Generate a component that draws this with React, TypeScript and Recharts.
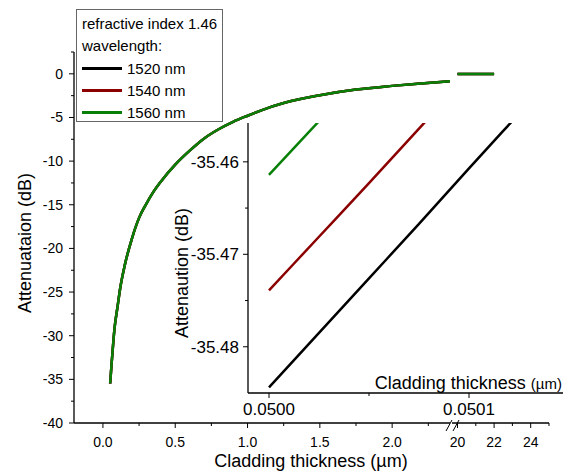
import { LineChart, Line, XAxis, YAxis } from "recharts";

const FONT = "'Liberation Sans', Arial, sans-serif";

// main curve, 0.05 – 2.4 µm
const thickness = [
  0.05, 0.06, 0.07, 0.08, 0.1, 0.12, 0.15, 0.2, 0.25, 0.3, 0.35, 0.4, 0.5, 0.6,
  0.7, 0.8, 0.9, 1.0, 1.1, 1.25, 1.5, 1.75, 2.0, 2.2, 2.4,
];
const att1520 = [
  -35.484, -33.2, -31.1, -29.2, -26.8, -24.5, -22.0, -18.9, -16.5, -14.9, -13.5,
  -12.35, -10.4, -8.8, -7.4, -6.35, -5.5, -4.8, -4.15, -3.35, -2.45, -1.8, -1.38,
  -1.1, -0.84,
];
const att1540 = [
  -35.474, -33.2, -31.1, -29.2, -26.8, -24.5, -22.0, -18.9, -16.5, -14.9, -13.5,
  -12.35, -10.4, -8.8, -7.4, -6.35, -5.5, -4.8, -4.15, -3.35, -2.45, -1.8, -1.38,
  -1.1, -0.84,
];
const att1560 = [
  -35.461, -33.2, -31.1, -29.2, -26.8, -24.5, -22.0, -18.9, -16.5, -14.9, -13.5,
  -12.35, -10.4, -8.8, -7.4, -6.35, -5.5, -4.8, -4.15, -3.35, -2.45, -1.8, -1.38,
  -1.1, -0.84,
];

// far segment past the axis break
const farThickness = [20, 22];
const far1520 = [-0.03, -0.03];
const far1540 = [-0.03, -0.03];
const far1560 = [-0.03, -0.03];

// zoom near 0.05 µm
const zoomThickness = [0.05, 0.050025, 0.05005, 0.050075, 0.0501, 0.050125, 0.05015];
const zoom1520 = [-35.4844, -35.4785, -35.4726, -35.4667, -35.4607, -35.4548, -35.4489];
const zoom1540 = [-35.4739, -35.4681, -35.4623, -35.4564, -35.4506, -35.4448, -35.439];
const zoom1560 = [-35.4614, -35.4556, -35.4497, -35.4439, -35.4381, -35.4323, -35.4265];

const wavelengths = ["1520 nm", "1540 nm", "1560 nm"];
const colors = ["#000000", "#8b0000", "#088008"];

const yMajor = [-40, -35, -30, -25, -20, -15, -10, -5, 0];
const yMinor = [-37.5, -32.5, -27.5, -22.5, -17.5, -12.5, -7.5, -2.5, 2.5];
const xMajor = [0, 0.5, 1, 1.5, 2];
const xMinor = [0.25, 0.75, 1.25, 1.75, 2.25];
const farMajor = [20, 22, 24];
const farMinor = [21, 23, 25];
const zoomYMajor = [-35.48, -35.47, -35.46];
const zoomYMinor = [-35.475, -35.465];
const zoomXMajor = [0.05, 0.0501];
const zoomXMinor = [0.05005];

const mainData = thickness.map((t, i) => ({ t, a: att1520[i], b: att1540[i], c: att1560[i] }));
const farData = farThickness.map((t, i) => ({ t, a: far1520[i], b: far1540[i], c: far1560[i] }));
const zoomData = zoomThickness.map((t, i) => ({ t, a: zoom1520[i], b: zoom1540[i], c: zoom1560[i] }));

const TICK_SIZE = 6;
const TICK_MARGIN = 2;

const isIn = (list: number[], v: number) => list.some((m) => Math.abs(m - v) < 1e-9);

function leftTick(majors: number[], fontSize: number, gap: number, fmt: (v: number) => string) {
  return (props: any) => {
    const { x, y, payload } = props;
    const major = isIn(majors, payload.value);
    const ax = x + TICK_SIZE + TICK_MARGIN;
    const len = major ? 5 : 3;
    return (
      <g>
        <line x1={ax - len} y1={y} x2={ax} y2={y} stroke="#000" strokeWidth={1} />
        {major && (
          <text x={ax - gap} y={y} dy="0.35em" textAnchor="end" fontSize={fontSize} fontFamily={FONT} fill="#000">
            {fmt(payload.value)}
          </text>
        )}
      </g>
    );
  };
}

function bottomTick(majors: number[], fontSize: number, gap: number, fmt: (v: number) => string) {
  return (props: any) => {
    const { x, y, payload } = props;
    const major = isIn(majors, payload.value);
    const ay = y - TICK_SIZE - TICK_MARGIN;
    const len = major ? 5 : 3;
    return (
      <g>
        <line x1={x} y1={ay} x2={x} y2={ay + len} stroke="#000" strokeWidth={1} />
        {major && (
          <text x={x} y={ay + gap} dy="0.35em" textAnchor="middle" fontSize={fontSize} fontFamily={FONT} fill="#000">
            {fmt(payload.value)}
          </text>
        )}
      </g>
    );
  };
}

const axisStyle = { stroke: "#000", strokeWidth: 1.3 };
const layer = { position: "absolute" as const, left: 0, top: 0 };

function Series() {
  return (
    <>
      {["a", "b", "c"].map((k, i) => (
        <Line
          key={k}
          dataKey={k}
          type="monotone"
          stroke={colors[i]}
          strokeWidth={2.5}
          dot={false}
          isAnimationActive={false}
        />
      ))}
    </>
  );
}

export default function App() {
  return (
    <div style={{ ...layer, width: 568, height: 472, background: "#fff", fontFamily: FONT }}>
      {/* main panel, left of the break */}
      <div style={layer}>
        <LineChart width={568} height={472} data={mainData} margin={{ top: 52, right: 118, bottom: 19, left: 0 }}>
          <XAxis
            dataKey="t"
            type="number"
            domain={[-0.2, 2.4]}
            ticks={[...xMajor, ...xMinor]}
            interval={0}
            height={30}
            tickSize={TICK_SIZE}
            tickMargin={TICK_MARGIN}
            tickLine={false}
            axisLine={axisStyle}
            tick={bottomTick(xMajor, 14, 19, (v) => v.toFixed(1))}
          />
          <YAxis
            type="number"
            domain={[-40, 2.5]}
            ticks={[...yMajor, ...yMinor]}
            interval={0}
            width={74}
            tickSize={TICK_SIZE}
            tickMargin={TICK_MARGIN}
            tickLine={false}
            axisLine={axisStyle}
            tick={leftTick(yMajor, 14, 11, (v) => String(v))}
          />
          {Series()}
        </LineChart>
      </div>

      {/* far panel, right of the break */}
      <div style={layer}>
        <LineChart width={568} height={472} data={farData} margin={{ top: 52, right: 19, bottom: 19, left: 452 }}>
          <XAxis
            dataKey="t"
            type="number"
            domain={[19.7, 25]}
            ticks={[...farMajor, ...farMinor]}
            interval={0}
            height={30}
            tickSize={TICK_SIZE}
            tickMargin={TICK_MARGIN}
            tickLine={false}
            axisLine={axisStyle}
            tick={bottomTick(farMajor, 14, 19, (v) => String(v))}
          />
          <YAxis hide type="number" domain={[-40, 2.5]} />
          {Series()}
        </LineChart>
      </div>

      {/* inset around 0.05 µm */}
      <div style={layer}>
        <LineChart width={568} height={472} data={zoomData} margin={{ top: 123, right: 5, bottom: 49, left: 188 }}>
          <XAxis
            dataKey="t"
            type="number"
            domain={[0.0499895, 0.050147]}
            allowDataOverflow
            ticks={[...zoomXMajor, ...zoomXMinor]}
            interval={0}
            height={30}
            tickSize={TICK_SIZE}
            tickMargin={TICK_MARGIN}
            tickLine={false}
            axisLine={axisStyle}
            tick={bottomTick(zoomXMajor, 17, 16, (v) => v.toFixed(4))}
          />
          <YAxis
            type="number"
            domain={[-35.485, -35.4558]}
            allowDataOverflow
            ticks={[...zoomYMajor, ...zoomYMinor]}
            interval={0}
            width={60}
            tickSize={TICK_SIZE}
            tickMargin={TICK_MARGIN}
            tickLine={false}
            axisLine={axisStyle}
            tick={leftTick(zoomYMajor, 17, 9, (v) => v.toFixed(2))}
          />
          {Series()}
        </LineChart>
      </div>

      {/* axis titles and break marks */}
      <svg width={568} height={472} style={{ ...layer, pointerEvents: "none" }} fontFamily={FONT}>
        <text x={311} y={467} textAnchor="middle" fontSize={18}>
          Cladding thickness (µm)
        </text>
        <text transform="translate(25,243) rotate(-90)" dy="0.35em" textAnchor="middle" fontSize={18}>
          Attenuataion (dB)
        </text>
        <text transform="translate(182,273) rotate(-90)" dy="0.35em" textAnchor="middle" fontSize={18}>
          Attenaution (dB)
        </text>
        <text x={562} y={389} textAnchor="end" fontSize={18}>
          Cladding thickness <tspan fontSize={15}>(µm)</tspan>
        </text>
        <line x1={446} y1={431} x2={452} y2={420} stroke="#000" strokeWidth={1} />
        <line x1={453} y1={431} x2={459} y2={420} stroke="#000" strokeWidth={1} />
      </svg>

      {/* legend */}
      <div
        style={{
          position: "absolute",
          left: 76,
          top: 9,
          width: 145,
          height: 111,
          border: "1px solid #666",
          background: "#fff",
          fontSize: 15,
          color: "#000",
        }}
      >
        <div style={{ position: "absolute", left: 5, top: 5, whiteSpace: "nowrap" }}>refractive index 1.46</div>
        <div style={{ position: "absolute", left: 5, top: 27 }}>wavelength:</div>
        {wavelengths.map((w, i) => (
          <div key={w} style={{ position: "absolute", left: 5, top: 49 + i * 22, height: 18, display: "flex", alignItems: "center" }}>
            <span style={{ display: "inline-block", width: 40, height: 3, background: colors[i], marginRight: 5 }} />
            <span>{w}</span>
          </div>
        ))}
      </div>
    </div>
  );
}
